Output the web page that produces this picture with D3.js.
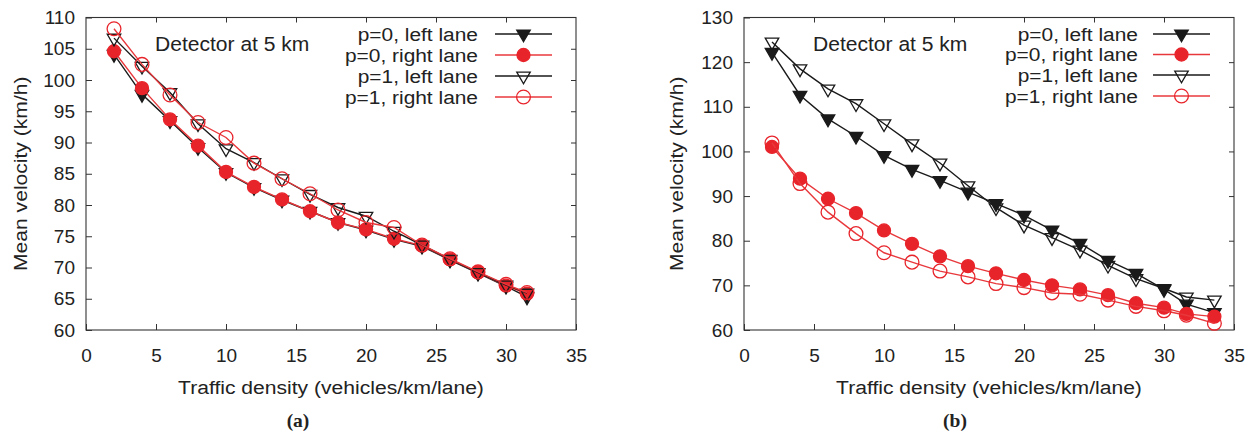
<!DOCTYPE html>
<html><head><meta charset="utf-8">
<script src="https://cdn.jsdelivr.net/npm/d3@7"></script>
<style>
body{margin:0;background:#fff;}
svg{display:block;font-family:"Liberation Sans",Arial,Helvetica,sans-serif;}
</style></head>
<body>
<svg id="chart" width="1253" height="431"></svg>
<script>
// ---------- data ----------
const xA = [2,4,6,8,10,12,14,16,18,20,22,24,26,28,30,31.5];
const aP0Left  = [104.1, 97.7, 93.5, 89.2, 85.2, 82.8, 80.8, 79.0, 77.2, 76.0, 74.5, 73.4, 71.2, 69.1, 67.0, 65.3];
const aP0Right = [104.6, 98.7, 93.7, 89.5, 85.3, 82.9, 80.9, 79.0, 77.2, 76.1, 74.6, 73.5, 71.3, 69.2, 67.1, 65.8];
const aP1Left  = [106.7, 102.2, 98.0, 93.0, 89.0, 86.8, 84.2, 81.7, 79.6, 78.2, 75.8, 73.6, 71.3, 69.2, 67.2, 65.9];
const aP1Right = [108.2, 102.5, 97.6, 93.2, 90.8, 86.7, 84.2, 81.8, 79.2, 77.2, 76.4, 73.6, 71.4, 69.3, 67.3, 66.0];

const xB = [2,4,6,8,10,12,14,16,18,20,22,24,26,28,30,31.6,33.6];
const bP0Left  = [122.2, 112.6, 107.3, 103.4, 99.1, 96.0, 93.5, 90.9, 88.3, 85.7, 82.4, 79.4, 75.6, 72.7, 69.1, 65.8, 63.9];
const bP0Right = [101.0, 93.9, 89.4, 86.2, 82.3, 79.3, 76.5, 74.3, 72.7, 71.2, 70.0, 69.1, 67.8, 66.0, 65.0, 63.6, 63.0];
const bP1Left  = [124.5, 118.5, 114.0, 110.7, 106.2, 101.7, 97.4, 92.3, 87.4, 83.5, 80.7, 77.9, 74.5, 71.5, 69.3, 67.4, 66.7];
const bP1Right = [101.9, 92.8, 86.4, 81.6, 77.3, 75.2, 73.2, 71.9, 70.4, 69.5, 68.3, 68.0, 66.7, 65.3, 64.3, 63.3, 61.5];

const xTicks = [0,5,10,15,20,25,30,35];
const yTicksA = [60,65,70,75,80,85,90,95,100,105,110];
const yTicksB = [60,70,80,90,100,110,120,130];
const seriesNames = ["p=0, left lane","p=0, right lane","p=1, left lane","p=1, right lane"];
const xTitle = "Traffic density (vehicles/km/lane)";
const yTitle = "Mean velocity (km/h)";
const noteText = "Detector at 5 km";
const panelLabels = ["(a)","(b)"];

// ---------- styles ----------
const RED = "#e8242b", RED_LINE = "#e8383c", BLACK = "#1a1a1a";
const styles = [
  {color:BLACK, line:BLACK, shape:"tri", filled:true},
  {color:RED, line:RED_LINE, shape:"circ", filled:true},
  {color:BLACK, line:BLACK, shape:"tri", filled:false},
  {color:RED, line:RED_LINE, shape:"circ", filled:false}
];

const svg = d3.select("#chart");

function stretchedText(g, x, y, txt, anchor, size, sx, rotate){
  const t = g.append("text")
    .attr("transform", `translate(${x},${y})` + (rotate?` rotate(${rotate})`:"") + ` scale(${sx},1)`)
    .attr("text-anchor", anchor)
    .attr("font-size", size)
    .attr("fill", "#222")
    .text(txt);
  return t;
}

function drawMarker(g, cx, cy, st){
  if(st.shape==="tri"){
    const s = 13.5, h = s*Math.sqrt(3)/2;
    const p = `M${cx-s/2},${cy-h/3}L${cx+s/2},${cy-h/3}L${cx},${cy+2*h/3}Z`;
    g.append("path").attr("d", p)
      .attr("fill", st.filled?st.color:"none")
      .attr("stroke", st.color).attr("stroke-width", 1.3);
  } else {
    g.append("circle").attr("cx",cx).attr("cy",cy)
      .attr("r", st.filled?6.5:6.9)
      .attr("fill", st.filled?st.color:"none")
      .attr("stroke", st.color).attr("stroke-width", 1.3);
  }
}

function panel(opt){
  const {x0,x1,y0,y1,yDomain,yTicks,xs,series,legendTextX,legendLineX0,legendLineX1,legendRows,noteX,yTitleX,label,labelX} = opt;
  const g = svg.append("g");
  const x = d3.scaleLinear().domain([0,35]).range([x0,x1]);
  const y = d3.scaleLinear().domain(yDomain).range([y1,y0]);

  // axes
  const axL = d3.axisLeft(y).tickValues(yTicks).tickSize(-6).tickPadding(11).tickFormat(d3.format("d"));
  const axB = d3.axisBottom(x).tickValues(xTicks).tickSize(-6).tickPadding(19).tickFormat(d3.format("d"));
  const axT = d3.axisTop(x).tickValues(xTicks.slice(1,-1)).tickSize(-5).tickFormat("");
  const axR = d3.axisRight(y).tickValues(yTicks.slice(1,-1)).tickSize(-5).tickFormat("");
  const gl = g.append("g").attr("transform",`translate(${x0},0)`).call(axL);
  const gb = g.append("g").attr("transform",`translate(0,${y1})`).call(axB);
  const gt = g.append("g").attr("transform",`translate(0,${y0})`).call(axT);
  const gr = g.append("g").attr("transform",`translate(${x1},0)`).call(axR);
  [gl,gb,gt,gr].forEach(a=>{
    a.select(".domain").remove();
    a.selectAll("line").attr("stroke","#333").attr("stroke-width",1);
    a.selectAll("text").attr("font-size",19).attr("fill","#222")
      .attr("font-family",'"Liberation Sans",Arial,Helvetica,sans-serif');
  });
  g.append("rect").attr("x",x0).attr("y",y0).attr("width",x1-x0).attr("height",y1-y0)
    .attr("fill","none").attr("stroke","#333").attr("stroke-width",1.1);

  // series
  const line = d3.line().x(d=>x(d[0])).y(d=>y(d[1]));
  series.forEach((vals,i)=>{
    const st = styles[i];
    const pts = xs.map((xv,j)=>[xv,vals[j]]);
    g.append("path").attr("d", line(pts)).attr("fill","none")
      .attr("stroke", st.line).attr("stroke-width",1.4);
    pts.forEach(p=>drawMarker(g, x(p[0]), y(p[1]), st));
  });

  // note
  stretchedText(g, noteX, 51, noteText, "start", 19.5, 1.08);

  // legend
  seriesNames.forEach((name,i)=>{
    const ry = legendRows[i];
    stretchedText(g, legendTextX, ry+6.5, name, "end", 19, 1.1);
    g.append("line").attr("x1",legendLineX0).attr("x2",legendLineX1).attr("y1",ry).attr("y2",ry)
      .attr("stroke", styles[i].line).attr("stroke-width",1.4);
    drawMarker(g, (legendLineX0+legendLineX1)/2, ry, styles[i]);
  });

  // titles
  stretchedText(g, (x0+x1)/2, 394, xTitle, "middle", 19, 1.11);
  stretchedText(g, yTitleX, (y0+y1)/2, yTitle, "middle", 19, 1.11, -90);
  g.append("text").attr("x",labelX).attr("y",427).attr("text-anchor","middle")
    .attr("font-family",'"Liberation Serif","Times New Roman",serif')
    .attr("font-weight","bold").attr("font-size",19.5).attr("fill","#222").text(label);
}

panel({x0:86,x1:576,y0:17.5,y1:330,yDomain:[60,110],yTicks:yTicksA,xs:xA,
  series:[aP0Left,aP0Right,aP1Left,aP1Right],
  legendTextX:478,legendLineX0:495,legendLineX1:552,legendRows:[34,55,76,97],
  noteX:155,yTitleX:27,label:panelLabels[0],labelX:298});

panel({x0:744,x1:1234,y0:17.5,y1:330,yDomain:[60,130],yTicks:yTicksB,xs:xB,
  series:[bP0Left,bP0Right,bP1Left,bP1Right],
  legendTextX:1138,legendLineX0:1153,legendLineX1:1210,legendRows:[34,54.5,75,96],
  noteX:813,yTitleX:683,label:panelLabels[1],labelX:955});
</script>
</body></html>
